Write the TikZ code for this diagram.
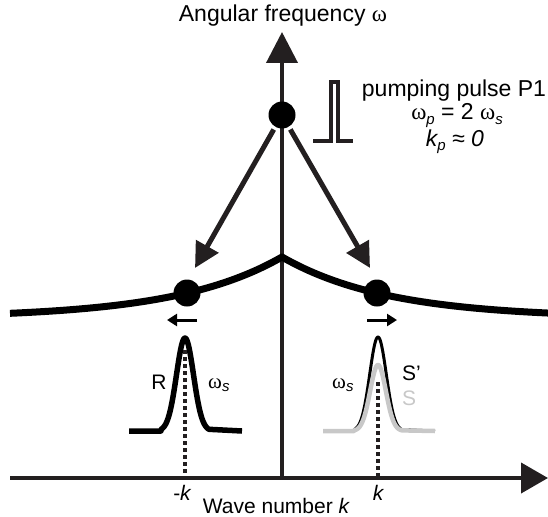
\documentclass[tikz,border=0pt]{standalone}
\usepackage{fontspec}
\setmainfont{Liberation Sans}
\newfontfamily\symf{Liberation Serif}
\usetikzlibrary{arrows.meta}
\definecolor{ink}{HTML}{231F20}
\definecolor{lightgray}{HTML}{C8C8C8}
\newcommand\om{{\symf ω}}
\newcommand\subs[1]{\raisebox{-0.35ex}{\fontsize{15}{15}\selectfont\itshape #1}}
\tikzset{
  axisline/.style={draw=ink, line width=4pt},
  dispcurve/.style={draw=black, line width=7pt},
  bigarrow/.style={draw=ink, line width=5pt, -{Triangle[length=25pt,width=25pt]}, shorten <=3pt},
  smallarrow/.style={draw=black, line width=3pt, -{Triangle[length=10pt,width=12pt]}},
  dotnode/.style={circle, fill=black, minimum size=27pt, inner sep=0pt},
  dottedline/.style={draw=ink, line width=4pt, dash pattern=on 4pt off 3pt},
  pulseline/.style={draw=ink, line width=4pt},
  lbl/.style={inner sep=0pt, font=\fontsize{23}{27}\selectfont},
  lblp/.style={inner sep=0pt, font=\fontsize{23}{27}\selectfont},
  lbls/.style={inner sep=0pt, font=\fontsize{21}{25}\selectfont},
}
\begin{document}
\begin{tikzpicture}[x=1pt,y=-1pt]
\useasboundingbox (0,0) rectangle (548,516);
% coordinates
\coordinate (origin) at (282,478);
\coordinate (ytip) at (282,32);
\coordinate (xstart) at (10,478);
\coordinate (xtip) at (548,478);
\coordinate (ltip) at (195,268);
\coordinate (rtip) at (370,268);
\coordinate (la0) at (197,320);
\coordinate (la1) at (167,320);
\coordinate (ra0) at (367,320);
\coordinate (ra1) at (397,320);
\coordinate (ld0) at (185,350);
\coordinate (ld1) at (185,478);
\coordinate (rd0) at (378,382);
\coordinate (rd1) at (378,478);
% axes
\draw[axisline, -{Triangle[length=27pt,width=30pt]}] (xstart) -- (xtip);
\draw[axisline, -{Triangle[length=31pt,width=31pt]}] (origin) -- (ytip);
% dispersion curve
\draw[dispcurve] plot[domain=10:282, samples=60] (\x, {318-61*exp(-(282-\x)/106)})
  -- plot[domain=282:548, samples=60] (\x, {318-61*exp(-(\x-282)/106)});
% dots
\node[dotnode] (pump) at (282,115) {};
\node[dotnode] (rdot) at (187,293) {};
\node[dotnode] (sdot) at (377,293) {};
% big arrows
\draw[bigarrow] (pump) -- (ltip);
\draw[bigarrow] (pump) -- (rtip);
% small arrows
\draw[smallarrow] (la0) -- (la1);
\draw[smallarrow] (ra0) -- (ra1);
% pulse
\draw[pulseline] (313,141) -- (331,141) -- (331,82) -- (338,82) -- (338,141) -- (353,141);
% left peak R
\draw[draw=black, line width=5.5pt, line join=round] (129,431) -- (161,431)
  -- plot[domain=-24:24, samples=80] ({185+\x}, {431-93*exp(-(\x*\x)/(2*72))}) -- (242,431);
% right peak S'
\draw[draw=black, line width=3pt, line join=round] (323,431) -- (354,431)
  -- plot[domain=-24:24, samples=80] ({378+\x}, {431-94*exp(-(\x*\x)/(2*68))}) -- (435,431);
% right peak S (gray)
\draw[draw=lightgray, line width=4.5pt, line join=round] (323,431) -- (354,431)
  -- plot[domain=-24:24, samples=80] ({378+\x}, {431-66*exp(-(\x*\x)/(2*62))}) -- (435,431);
% dotted lines
\draw[dottedline] (ld0) -- (ld1);
\draw[dottedline] (rd0) -- (rd1);
% labels
\node[lbl, anchor=base] (ylab) at (283,22) {Angular frequency \om};
\node[lblp, anchor=base] (p1) at (454,96) {pumping pulse P1};
\node[lblp, anchor=base] (p2) at (457,120) {\om\subs{p} = 2 \om\subs{s}};
\node[lblp, anchor=base] (p3) at (455,146) {\itshape k\subs{p} ≈ 0};
\node[lbls] (rlab) at (159,382) {R};
\node[lbls, anchor=base west] (wsl) at (208,388) {\om\subs{s}};
\node[lbls, anchor=base west] (wsr) at (332,388) {\om\subs{s}};
\node[lbls, anchor=base west] (sp) at (402,380) {S’};
\node[lbls, anchor=base west, text=lightgray] (slab) at (402,405) {S};
\node[lbls, anchor=base] (mk) at (182,500) {-\itshape k};
\node[lbls, anchor=base] (xlab) at (276,513) {Wave number \itshape k};
\node[lbls, anchor=base] (pk) at (378,500) {\itshape k};
\end{tikzpicture}
\end{document}
